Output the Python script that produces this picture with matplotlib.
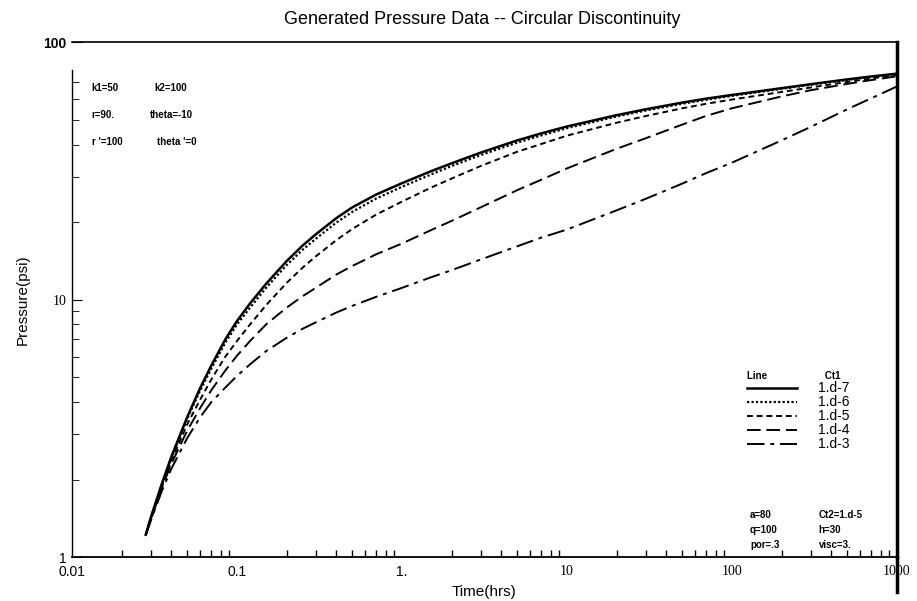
import matplotlib
matplotlib.use('Agg')
import matplotlib.pyplot as plt
from matplotlib.lines import Line2D

plt.rcParams['font.family'] = ['Liberation Sans', 'DejaVu Sans']

# time (hrs) and pressure (psi)
t = [0.028, 0.03, 0.035, 0.04, 0.05, 0.06, 0.07, 0.085, 0.1, 0.12, 0.15, 0.2,
     0.25, 0.3, 0.4, 0.5, 0.7, 1, 1.5, 2, 3, 5, 7, 10, 20, 30, 50, 70, 100,
     200, 300, 500, 700, 1000]
p_1d7 = [1.22, 1.42, 1.92, 2.45, 3.5, 4.55, 5.55, 7.0, 8.25, 9.65, 11.5, 14.1,
         16.2, 17.9, 20.7, 22.8, 25.6, 28.3, 31.5, 33.8, 37.2, 41.5, 44.2,
         47.0, 52.0, 54.8, 58.2, 60.3, 62.3, 66.2, 68.6, 71.6, 73.5, 75.4]
p_1d6 = [1.22, 1.41, 1.9, 2.42, 3.45, 4.45, 5.4, 6.8, 8.0, 9.3, 11.1, 13.6,
         15.6, 17.2, 19.9, 21.9, 24.7, 27.4, 30.6, 33.0, 36.4, 40.7, 43.4,
         46.3, 51.4, 54.2, 57.6, 59.7, 61.8, 65.8, 68.2, 71.3, 73.3, 75.2]
p_1d5 = [1.22, 1.4, 1.87, 2.36, 3.28, 4.1, 4.9, 6.0, 6.9, 8.0, 9.5, 11.6,
         13.3, 14.7, 17.0, 18.8, 21.4, 24.0, 27.2, 29.5, 33.0, 37.5, 40.2,
         43.3, 48.6, 51.6, 55.3, 57.6, 59.8, 64.0, 66.6, 70.0, 72.2, 74.6]
p_1d4 = [1.22, 1.39, 1.85, 2.3, 3.1, 3.8, 4.45, 5.3, 6.05, 6.9, 8.0, 9.3,
         10.3, 11.1, 12.5, 13.5, 15.0, 16.5, 18.6, 20.2, 22.8, 26.6, 29.2,
         32.3, 38.5, 42.3, 47.8, 51.7, 55.3, 61.5, 65.0, 68.8, 71.2, 73.6]
p_1d3 = [1.22, 1.38, 1.8, 2.2, 2.9, 3.5, 4.0, 4.55, 5.05, 5.6, 6.3, 7.1,
         7.7, 8.15, 8.9, 9.45, 10.25, 11.1, 12.2, 13.0, 14.3, 16.1, 17.4,
         18.7, 22.2, 24.6, 28.2, 31.0, 34.0, 41.5, 46.8, 54.8, 60.5, 67.2]

labels = ['1.d-7', '1.d-6', '1.d-5', '1.d-4', '1.d-3']
series = [p_1d7, p_1d6, p_1d5, p_1d4, p_1d3]
styles = ['-', (0, (1, 1)), (0, (3, 2)), (0, (7, 3)), (0, (9, 3, 2, 3))]
widths = [1.8, 1.6, 1.4, 1.4, 1.4]

fig = plt.figure(figsize=(9.17, 6.01), dpi=100)
ax = fig.add_axes([0.0785, 0.0732, 0.8995, 0.8568])

for p, lab, ls, lw in zip(series, labels, styles, widths):
    ax.plot(t, p, color='black', linestyle=ls, linewidth=lw, label=lab)

ax.set_xscale('log')
ax.set_yscale('log')
ax.set_xlim(0.01, 1000)
ax.set_ylim(1, 100)

# tick labels as in the reference
ax.set_xticks([0.01, 0.1, 1, 10, 100, 1000])
ax.set_xticklabels(['0.01', '0.1', '1.', '10', '100', '1000'])
for lab in ax.get_xticklabels()[3:]:
    lab.set_family('Liberation Serif')
    lab.set_fontsize(11)
ax.set_yticks([1, 10, 100])
ax.set_yticklabels(['1', '10', '100'])
ax.set_yticks([2, 3, 4, 5, 6, 7, 8, 9, 20, 30, 40, 50, 60, 70], minor=True)
ylabs = ax.get_yticklabels()
ylabs[1].set_family('Liberation Serif')
ylabs[2].set_fontweight('bold')

ax.tick_params(which='both', direction='in', labelsize=10)
ax.tick_params(axis='x', which='major', length=0, pad=6)
ax.tick_params(axis='x', which='minor', length=5, width=1)
ax.tick_params(axis='y', which='major', length=7, pad=4)
ax.tick_params(axis='y', which='minor', length=5)
ax.tick_params(axis='y', which='major', left=True)

ax.spines['right'].set_linewidth(2.5)
ax.spines['left'].set_linewidth(1.0)
ax.spines['left'].set_bounds(1, 78)
ax.spines['bottom'].set_linewidth(1.3)
ax.spines['top'].set_linewidth(1.2)

# right border runs below the axis
fig.add_artist(Line2D([0.978, 0.978], [1 - 592 / 601, 0.0732],
                      color='black', linewidth=2.5))

ax.set_xlabel('Time(hrs)', fontsize=11, labelpad=4)
ax.set_ylabel('Pressure(psi)', fontsize=11, labelpad=10)
fig.suptitle('Generated Pressure Data -- Circular Discontinuity',
             fontsize=13, x=0.526, y=0.982)

# parameter notes
note = dict(fontsize=7, fontweight='bold', transform=ax.transAxes)
ax.text(0.024, 0.905, 'k1=50', **note)
ax.text(0.100, 0.905, 'k2=100', **note)
ax.text(0.024, 0.853, 'r=90.', **note)
ax.text(0.094, 0.853, 'theta=-10', **note)
ax.text(0.024, 0.801, "r '=100", **note)
ax.text(0.103, 0.801, "theta '=0", **note)

ax.text(0.822, 0.075, 'a=80', **note)
ax.text(0.905, 0.075, 'Ct2=1.d-5', **note)
ax.text(0.822, 0.046, 'q=100', **note)
ax.text(0.905, 0.046, 'h=30', **note)
ax.text(0.822, 0.017, 'por=.3', **note)
ax.text(0.905, 0.017, 'visc=3.', **note)

leg = ax.legend(loc='upper left', bbox_to_anchor=(0.81, 0.374), frameon=False,
                title='Line                     Ct1', handlelength=3.6,
                handletextpad=1.5, labelspacing=0.0, fontsize=10,
                borderpad=0, alignment='left')
leg.get_title().set_fontsize(7)
leg.get_title().set_fontweight('bold')

fig.savefig('out.png', dpi=100)
